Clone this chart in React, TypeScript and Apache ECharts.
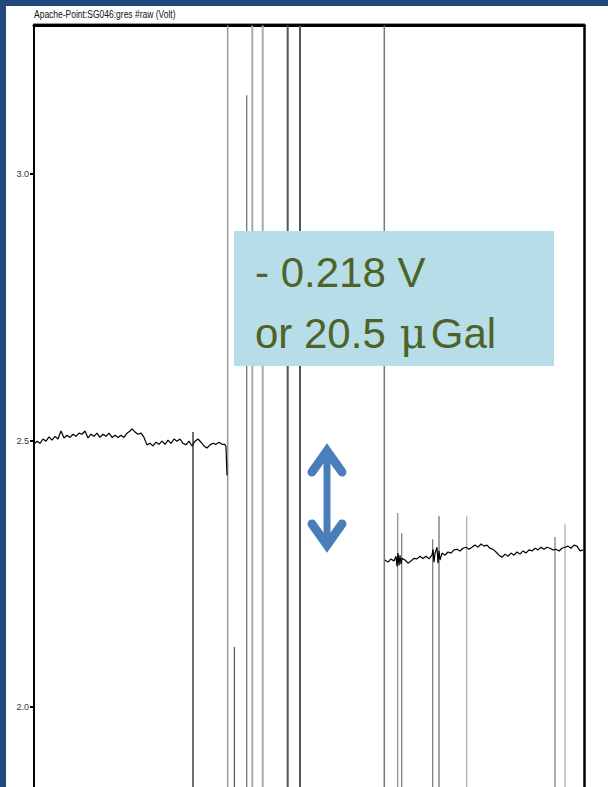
import React, { useEffect, useRef } from "react";
import * as echarts from "echarts";

const TITLE = "Apache-Point:SG046:gres #raw (Volt)";
const Y_TICKS = [2.0, 2.5, 3.0];
const Y_MIN = 1.85;
const Y_MAX = 3.279;
const X_MIN = 0;
const X_MAX = 550;

// trace before the step (time index, volts)
const leftTime = [0,3,6,9,12,15,18,21,24,27,30,33,36,39,42,45,48,51,54,57,60,63,66,69,72,75,78,81,84,87,90,93,96,98,101,104,107,110,113,116,119,122,125,128,131,134,137,140,143,146,149,152,155,158,161,164,167,170,173,176,179,182,185,188,191,192,193];
const leftVolt = [2.493,2.499,2.495,2.503,2.499,2.507,2.501,2.508,2.503,2.518,2.505,2.510,2.506,2.512,2.508,2.514,2.512,2.518,2.505,2.512,2.508,2.514,2.506,2.512,2.508,2.514,2.506,2.510,2.506,2.510,2.506,2.514,2.518,2.522,2.516,2.512,2.514,2.506,2.492,2.495,2.490,2.497,2.493,2.499,2.493,2.501,2.495,2.503,2.499,2.503,2.495,2.492,2.499,2.490,2.499,2.503,2.497,2.490,2.486,2.492,2.495,2.493,2.497,2.493,2.493,2.488,2.435];

// trace after the step
const rightTime = [351,354,357,360,362,363,364,365,366,367,368,371,374,377,380,383,386,389,392,395,398,399,400,401,403,404,405,406,408,411,414,417,420,423,426,429,432,435,438,441,444,447,450,453,456,459,462,465,468,471,474,477,480,483,486,489,492,495,498,501,504,507,510,513,516,519,522,525,528,531,534,537,540,543,546,549];
const rightVolt = [2.276,2.272,2.278,2.274,2.283,2.264,2.289,2.266,2.285,2.268,2.279,2.276,2.270,2.274,2.279,2.278,2.283,2.279,2.283,2.278,2.285,2.296,2.272,2.289,2.300,2.270,2.293,2.276,2.289,2.285,2.291,2.289,2.295,2.296,2.293,2.298,2.300,2.296,2.300,2.304,2.300,2.306,2.302,2.304,2.298,2.296,2.291,2.285,2.281,2.287,2.283,2.289,2.285,2.291,2.287,2.293,2.289,2.295,2.293,2.298,2.295,2.300,2.296,2.300,2.298,2.295,2.296,2.293,2.298,2.300,2.302,2.298,2.304,2.302,2.293,2.295];

// vertical spikes (time, upper volt, lower volt)
const spikeTime = [159, 193.7, 200.3, 212.7, 218.3, 228.7, 253.7, 266, 350.3, 363.7, 367.7, 398.7, 405, 432.7, 521, 531];
const spikeUpper = [2.516, 3.4, 2.113, 3.148, 3.4, 3.4, 3.4, 3.4, 3.4, 2.364, 2.326, 2.315, 2.358, 2.358, 2.319, 2.343];
const spikeLower = [1.7, 1.7, 1.7, 1.7, 1.7, 1.7, 1.7, 1.7, 1.7, 1.7, 1.7, 1.7, 1.7, 1.7, 1.7, 1.7];

// styles for spikes
const SPIKE_COLORS = ["#333", "#999", "#333", "#666", "#aaa", "#aaa", "#555", "#555", "#777", "#888", "#777", "#777", "#666", "#aaa", "#777", "#aaa"];
const SPIKE_WIDTHS = [1.4, 1.5, 1, 1.2, 2, 2, 2, 2, 1.5, 1.2, 1.2, 1.2, 1.2, 1.2, 1.2, 1.2];

const ANNOT_LINE1 = "- 0.218 V";
const ANNOT_LINE2A = "or 20.5 ";
const ANNOT_MU = "\u03bc";
const ANNOT_LINE2B = "Gal";

export default function App() {
  const ref = useRef<HTMLDivElement>(null);
  useEffect(() => {
    if (!ref.current) return;
    const chart = echarts.init(ref.current, null, { renderer: "svg" });
    const leftData = leftTime.map((t, i) => [t, leftVolt[i]]);
    const rightData = rightTime.map((t, i) => [t, rightVolt[i]]);
    const spikeData = spikeTime.map((t, i) => [t, spikeUpper[i], spikeLower[i]]);
    const blue = "#4a7ebb";
    const green = "#4f6228";
    chart.setOption({
      animation: false,
      backgroundColor: "#ffffff",
      grid: { left: 34, right: 24, top: 25.5, bottom: 0, containLabel: false },
      xAxis: {
        type: "value",
        position: "top",
        min: X_MIN,
        max: X_MAX,
        axisLine: { show: true, lineStyle: { color: "#000", width: 3 } },
        axisTick: { show: false },
        axisLabel: { show: false },
        splitLine: { show: false },
      },
      yAxis: [
        {
          type: "value",
          position: "left",
          min: Y_MIN,
          max: Y_MAX,
          axisLine: { show: true, lineStyle: { color: "#000", width: 2 } },
          axisTick: {
            show: true,
            length: 4,
            customValues: Y_TICKS,
            lineStyle: { color: "#000", width: 2 },
          },
          axisLabel: {
            show: true,
            customValues: Y_TICKS,
            formatter: (v: number) => v.toFixed(1),
            margin: 5,
            fontSize: 9,
            color: "#2b3440",
            fontFamily: "Liberation Sans",
          },
          splitLine: { show: false },
        },
        {
          type: "value",
          position: "right",
          min: Y_MIN,
          max: Y_MAX,
          axisLine: { show: true, lineStyle: { color: "#000", width: 2.5 } },
          axisTick: { show: false },
          axisLabel: { show: false },
          splitLine: { show: false },
        },
      ],
      series: [
        {
          type: "custom",
          clip: true,
          z: 2,
          encode: { x: 0, y: [1, 2] },
          data: spikeData,
          renderItem: (params: any, api: any) => {
            const x = api.value(0);
            const p1 = api.coord([x, api.value(1)]);
            const p2 = api.coord([x, api.value(2)]);
            return {
              type: "line",
              shape: { x1: p1[0], y1: p1[1], x2: p2[0], y2: p2[1] },
              style: {
                stroke: SPIKE_COLORS[params.dataIndex],
                lineWidth: SPIKE_WIDTHS[params.dataIndex],
              },
            };
          },
        },
        {
          type: "line",
          z: 3,
          data: leftData,
          showSymbol: false,
          symbol: "none",
          lineStyle: { color: "#000", width: 1.2 },
        },
        {
          type: "line",
          z: 3,
          data: rightData,
          showSymbol: false,
          symbol: "none",
          lineStyle: { color: "#000", width: 1.2 },
        },
      ],
      graphic: [
        { type: "rect", z: 200, shape: { x: 0, y: 0, width: 608, height: 6 }, style: { fill: "#1f497d" } },
        { type: "rect", z: 200, shape: { x: 0, y: 0, width: 6, height: 787 }, style: { fill: "#1f497d" } },
        { type: "line", z: 5, shape: { x1: 33, y1: 23.5, x2: 585, y2: 23.5 }, style: { stroke: "#999", lineWidth: 1 } },
        {
          type: "text",
          z: 100,
          x: 34,
          y: 15,
          scaleX: 0.85,
          style: { text: TITLE, font: '10px "Liberation Sans"', fill: "#111", verticalAlign: "middle", align: "left" },
        },
        { type: "rect", z: 100, shape: { x: 234, y: 231, width: 320, height: 135 }, style: { fill: "#b7dee8" } },
        {
          type: "text",
          z: 101,
          x: 255,
          y: 272,
          style: { text: ANNOT_LINE1, font: '42px "Liberation Sans"', fill: green, verticalAlign: "middle", align: "left" },
        },
        {
          type: "text",
          z: 101,
          x: 255,
          y: 333,
          style: {
            text: "{a|" + ANNOT_LINE2A + "}{m|" + ANNOT_MU + "}{a|" + ANNOT_LINE2B + "}",
            fill: green,
            verticalAlign: "middle",
            align: "left",
            rich: {
              a: { fontFamily: "Liberation Sans", fontSize: 42, fill: green },
              m: { fontFamily: "DejaVu Serif", fontSize: 42, fill: green, padding: [0, 4, 0, 2] },
            },
          },
        },
        { type: "line", z: 100, shape: { x1: 327, y1: 452, x2: 327, y2: 545 }, style: { stroke: blue, lineWidth: 7 } },
        {
          type: "polyline",
          z: 100,
          shape: { points: [[312, 472], [327, 451], [342, 472]] },
          style: { stroke: blue, lineWidth: 9, lineCap: "round", lineJoin: "miter", fill: null },
        },
        {
          type: "polyline",
          z: 100,
          shape: { points: [[312, 524], [327, 545], [342, 524]] },
          style: { stroke: blue, lineWidth: 9, lineCap: "round", lineJoin: "miter", fill: null },
        },
      ],
    });
    return () => chart.dispose();
  }, []);
  return (
    <div
      ref={ref}
      style={{ position: "fixed", left: 0, top: 0, width: 608, height: 787 }}
    />
  );
}
